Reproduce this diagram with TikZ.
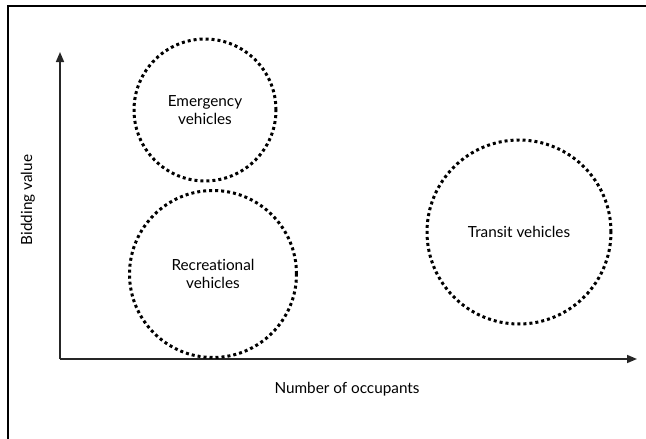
\documentclass[tikz,border=0pt]{standalone}
\usepackage{fontspec}
\setmainfont{Lato}[RawFeature={-liga}]
\usetikzlibrary{arrows.meta}

\begin{document}
\begin{tikzpicture}[x=1pt, y=-1pt, every node/.style={font=\fontsize{15.3}{18}\selectfont, align=center},
    zone/.style={circle, draw, line width=3pt, dash pattern=on 3pt off 3pt},
    axis/.style={line width=1.6pt, draw=black!85, -{Triangle[length=10pt, width=8pt]}}]
        \useasboundingbox (0,0) rectangle (646,439);
        % frame
        \draw[line width=2pt] (8,439) -- (8,6) -- (646,6);

        % axes
        \coordinate (O) at (60,359);
        \coordinate (Ytop) at (60,52);
        \coordinate (Xend) at (637,359);
        \draw[axis] (O) -- (Ytop);
        \draw[axis] (O) -- (Xend);

        \node[rotate=90] (ylab) at (28,200) {Bidding value};
        \node (xlab) at (347,389) {Number of occupants};

        % vehicle classes
        \node[zone, minimum size=142pt] (E) at (205,110) {Emergency\\vehicles};
        \node[zone, minimum size=167pt] (R) at (213,274) {Recreational\\vehicles};
        \node[zone, minimum size=184pt] (T) at (519,232) {Transit vehicles};
    \end{tikzpicture}
\end{document}
